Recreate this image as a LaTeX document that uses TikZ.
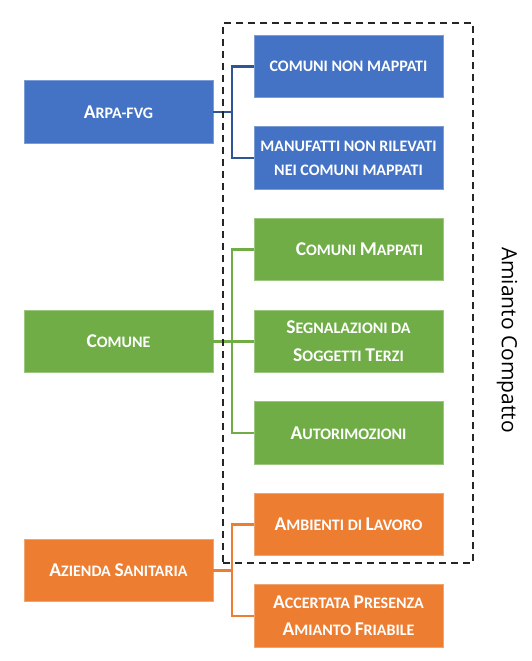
\documentclass[tikz,border=0pt]{standalone}
\usepackage{fontspec}
\setmainfont{Carlito}
\newfontfamily\labelfont{Open Sans}
\definecolor{myblue}{HTML}{4472C4}
\definecolor{mygreen}{HTML}{70AD47}
\definecolor{myorange}{HTML}{ED7D31}
\definecolor{darkblue}{HTML}{2F5597}
\newcommand{\Bg}[1]{{\fontsize{19.5}{19.5}\selectfont #1}}
\begin{document}
\begin{tikzpicture}[x=1pt,y=-1pt,
  box/.style={line width=0.8pt, minimum width=189pt, minimum height=62.5pt, inner sep=0pt, text=white, align=center,
    font=\fontsize{16}{24}\selectfont\bfseries},
  bluebox/.style={box, fill=myblue, draw=myblue!70!white},
  greenbox/.style={box, fill=mygreen, draw=mygreen!70!white},
  orangebox/.style={box, fill=myorange, draw=myorange!70!white},
  conn/.style={line width=2.2pt},
  frame/.style={draw=black!85, line width=2.5pt, dash pattern=on 7pt off 5pt, minimum width=250pt, minimum height=540pt, inner sep=0pt}
]
\useasboundingbox (0,0) rectangle (531,661);
% left boxes
\node[bluebox] (arpa) at (118.5,112) {\Bg{A}RPA-FVG};
\node[greenbox] (comune) at (118.5,341.5) {\Bg{C}OMUNE};
\node[orangebox] (azienda) at (118.5,570.5) {\Bg{A}ZIENDA \Bg{S}ANITARIA};
% right boxes
\node[bluebox] (b1) at (348.5,66.5) {COMUNI NON MAPPATI};
\node[bluebox] (b2) at (348.5,158) {MANUFATTI NON RILEVATI\\NEI COMUNI MAPPATI};
\node[greenbox] (g1) at (348.5,249.5) {\hspace*{22pt}\Bg{C}OMUNI \Bg{M}APPATI};
\node[greenbox, font=\fontsize{16}{28}\selectfont\bfseries] (g2) at (348.5,341.5) {\Bg{S}EGNALAZIONI DA\\\Bg{S}OGGETTI \Bg{T}ERZI};
\node[greenbox] (g3) at (348.5,433) {\Bg{A}UTORIMOZIONI};
\node[orangebox] (o1) at (348.5,524.5) {\Bg{A}MBIENTI DI \Bg{L}AVORO};
\node[orangebox, font=\fontsize{16}{27}\selectfont\bfseries] (o2) at (348.5,616) {\Bg{A}CCERTATA \Bg{P}RESENZA\\\Bg{A}MIANTO \Bg{F}RIABILE};
% junctions
\coordinate (bj) at (232,112);
\coordinate (gj) at (232,341.5);
\coordinate (oj) at (232,570.5);
% connectors
\draw[conn, darkblue] (arpa.east) -- (bj);
\draw[conn, darkblue] (b1.west) -| (bj) |- (b2.west);
\draw[conn, mygreen] (comune.east) -- (g2.west);
\draw[conn, mygreen] (g1.west) -| (gj) |- (g3.west);
\draw[conn, myorange] (azienda.east) -- (oj);
\draw[conn, myorange] (o1.west) -| (oj) |- (o2.west);
% dashed frame
\node[frame] (fr) at (348,293) {};
\node[rotate=-90, font=\labelfont\fontsize{21}{21}\selectfont] (lab) at (507,340) {Amianto Compatto};
\end{tikzpicture}
\end{document}
